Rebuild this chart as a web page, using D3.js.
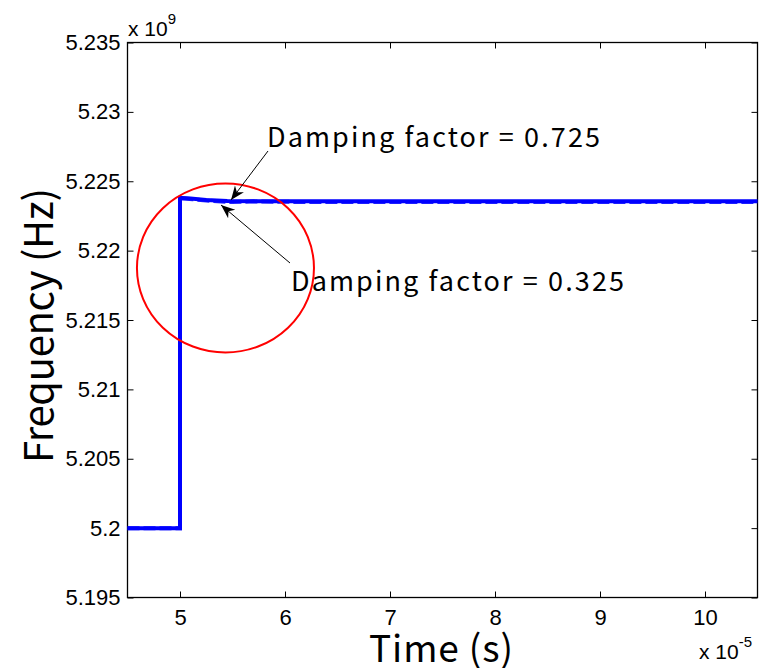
<!DOCTYPE html>
<html>
<head>
<meta charset="utf-8">
<script src="https://cdn.jsdelivr.net/npm/d3@7"></script>
<style>
body { margin: 0; background: #fff; }
svg { display: block; }
.tick text { font-family: "Liberation Sans", Arial, sans-serif; font-size: 22px; fill: #000; }
</style>
</head>
<body>
<svg id="chart" width="766" height="668"></svg>
<script>
// time in units of 1e-5 s, frequency in units of 1e9 Hz
var xTicks = [5, 6, 7, 8, 9, 10];
var yTicks = [5.195, 5.2, 5.205, 5.21, 5.215, 5.22, 5.225, 5.23, 5.235];
var yTickLabels = ["5.195", "5.2", "5.205", "5.21", "5.215", "5.22", "5.225", "5.23", "5.235"];

// damping factor 0.725 (solid)
var solid = [
	[4.5, 5.2], [5.0, 5.2], [5.0, 5.2238], [5.1, 5.22375], [5.25, 5.22365],
	[5.45, 5.22358], [5.8, 5.22356], [7, 5.22355], [10.5, 5.22355]
];
// damping factor 0.325 (dashed)
var dashed = [
	[4.5, 5.2], [5.0, 5.2], [5.0, 5.22378], [5.12, 5.2237], [5.3, 5.22358],
	[5.5, 5.22350], [5.7, 5.22355], [5.95, 5.22352], [6.3, 5.22350], [10.5, 5.2235]
];

var notes = [
	{ text: "Damping factor = 0.725", tx: 267, ty: 147, len: 333, from: [268, 151], to: [231, 200] },
	{ text: "Damping factor = 0.325", tx: 291, ty: 291, len: 333, from: [290, 263], to: [221, 205] }
];

var svg = d3.select("#chart");
var m = { l: 127.5, t: 42.5, r: 757.5, b: 597.5 };
var gothic = "Noto Sans CJK JP, sans-serif";

var x = d3.scaleLinear().domain([4.5, 10.5]).range([m.l, m.r]);
var y = d3.scaleLinear().domain([5.195, 5.235]).range([m.b, m.t]);

svg.append("defs").append("marker")
	.attr("id", "arrow").attr("viewBox", "0 0 10 10")
	.attr("refX", 10).attr("refY", 5)
	.attr("markerWidth", 14).attr("markerHeight", 14)
	.attr("markerUnits", "userSpaceOnUse")
	.attr("orient", "auto")
	.append("path").attr("d", "M0,1 L10,5 L0,9 L3,5 Z").attr("fill", "#000");

// box
svg.append("rect")
	.attr("x", m.l).attr("y", m.t)
	.attr("width", m.r - m.l).attr("height", m.b - m.t)
	.attr("fill", "none").attr("stroke", "#000").attr("stroke-width", 1.3);

var tickLen = 6;
svg.append("g").attr("transform", "translate(0," + m.b + ")")
	.call(d3.axisBottom(x).tickValues(xTicks).tickSize(-tickLen).tickPadding(12).tickFormat(d3.format("d")));
svg.append("g").attr("transform", "translate(0," + m.t + ")")
	.call(d3.axisTop(x).tickValues(xTicks).tickSize(-tickLen).tickFormat(""));
svg.append("g").attr("transform", "translate(" + m.l + ",0)")
	.call(d3.axisLeft(y).tickValues(yTicks).tickSize(-tickLen).tickPadding(7)
		.tickFormat((d, i) => yTickLabels[i]));
svg.append("g").attr("transform", "translate(" + m.r + ",0)")
	.call(d3.axisRight(y).tickValues(yTicks).tickSize(-tickLen).tickFormat(""));
svg.selectAll(".domain").remove();
svg.selectAll(".tick line").attr("stroke", "#000");

// exponent labels
var expo = (px, py, base, sup) => {
	var t = svg.append("text").attr("x", px).attr("y", py)
		.attr("font-family", "Liberation Sans, Arial, sans-serif").attr("font-size", 21);
	t.append("tspan").text(base);
	t.append("tspan").attr("dy", -12).attr("font-size", 15).text(sup);
};
expo(128, 36, "x 10", "9");
expo(699, 659, "x 10", "-5");

// curves
var line = d3.line().x((d) => x(d[0])).y((d) => y(d[1]));
svg.append("path").datum(solid).attr("d", line)
	.attr("fill", "none").attr("stroke", "#0000ff").attr("stroke-width", 4);
svg.append("path").datum(dashed).attr("d", line)
	.attr("fill", "none").attr("stroke", "#0000ff").attr("stroke-width", 4)
	.attr("stroke-dasharray", "12,4").attr("stroke-opacity", 0.85);

// red circle
svg.append("ellipse")
	.attr("cx", x(5.433)).attr("cy", y(5.21875))
	.attr("rx", x(5.433 + 0.843) - x(5.433)).attr("ry", y(5.21875) - y(5.21875 + 0.00609))
	.attr("fill", "none").attr("stroke", "#ff0000").attr("stroke-width", 2);

// annotations
notes.forEach((n) => {
	svg.append("line")
		.attr("x1", n.from[0]).attr("y1", n.from[1])
		.attr("x2", n.to[0]).attr("y2", n.to[1])
		.attr("stroke", "#000").attr("stroke-width", 1)
		.attr("marker-end", "url(#arrow)");
	svg.append("text").attr("x", n.tx).attr("y", n.ty)
		.attr("font-family", gothic).attr("font-size", 27)
		.attr("textLength", n.len).attr("lengthAdjust", "spacing")
		.text(n.text);
});

// axis titles
svg.append("text")
	.attr("x", 369).attr("y", 662)
	.attr("font-family", gothic).attr("font-size", 37)
	.attr("textLength", 144).attr("lengthAdjust", "spacing")
	.text("Time (s)");
svg.append("text")
	.attr("transform", "translate(53,463) rotate(-90)")
	.attr("font-family", gothic).attr("font-size", 40)
	.attr("textLength", 275).attr("lengthAdjust", "spacing")
	.text("Frequency (Hz)");
</script>
</body>
</html>
